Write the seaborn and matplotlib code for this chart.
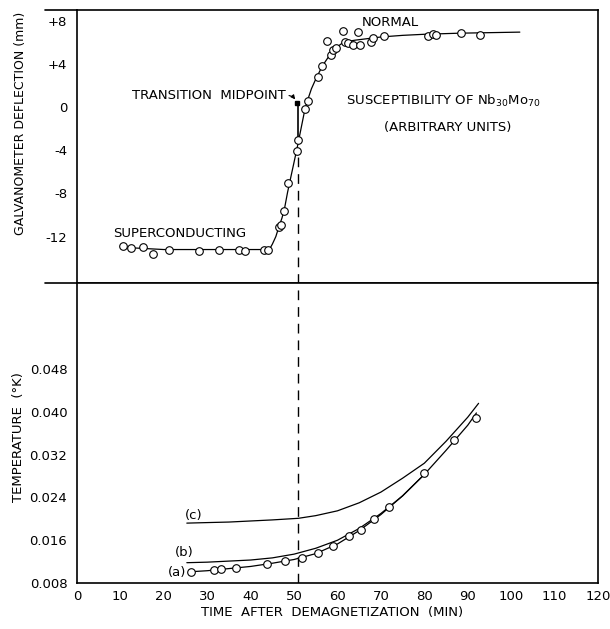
import matplotlib
matplotlib.use("Agg")
import matplotlib.pyplot as plt
import seaborn as sns
import pandas as pd

# galvanometer readings (time in min, deflection in mm)
galv_t = [10.7, 12.4, 15.1, 17.6, 21.3, 28.2, 32.6, 37.4, 38.7, 43.1, 43.9,
          46.5, 47.0, 47.7, 48.7, 50.6, 51.0, 52.5, 53.1, 55.4, 56.4, 57.7,
          58.5, 59.0, 59.7, 61.3, 61.7, 62.5, 63.6, 64.8, 65.3, 67.7, 68.1,
          70.8, 80.9, 81.9, 82.8, 88.5, 92.8]
galv_mm = [-12.9, -13.05, -12.95, -13.6, -13.2, -13.3, -13.2, -13.25, -13.3, -13.2, -13.25,
           -11.1, -10.9, -9.6, -7.0, -4.05, -3.05, -0.15, 0.6, 2.8, 3.8, 6.1,
           4.8, 5.3, 5.5, 7.1, 6.05, 5.9, 5.8, 6.95, 5.8, 6.05, 6.45,
           6.6, 6.55, 6.75, 6.7, 6.9, 6.65]

# smooth curve drawn through the galvanometer readings
galv_fit_t = [10.7, 20, 30, 40, 44.3, 45.0, 45.8, 46.5, 47.2, 47.8, 48.5, 49.3,
              50.0, 50.8, 51.5, 52.3, 53.0, 54.0, 55.0, 56.0, 57.0, 58.0, 59.0,
              60.0, 61.0, 62.5, 64, 67, 70, 75, 80, 88, 95, 102]
galv_fit_mm = [-13.0, -13.2, -13.2, -13.2, -13.2, -12.7, -12.0, -11.1, -10.3, -9.4, -7.9, -6.4,
               -5.1, -3.6, -2.2, -0.6, 0.5, 1.7, 2.6, 3.4, 4.1, 4.7, 5.2,
               5.6, 5.9, 6.1, 6.2, 6.35, 6.5, 6.65, 6.75, 6.85, 6.9, 6.95]

# temperature readings, curve (a)
temp_t = [26.2, 31.6, 33.2, 36.6, 43.7, 48.0, 51.8, 55.4, 59.0, 62.7, 65.4,
          68.5, 71.8, 80.0, 86.9, 91.9]
temp_k = [0.0101, 0.0104, 0.0106, 0.0109, 0.0115, 0.0121, 0.0127, 0.0137, 0.0150,
          0.0167, 0.0179, 0.0200, 0.0222, 0.0285, 0.0347, 0.0389]

curve_a_t = [26, 30, 35, 40, 45, 50, 55, 60, 65, 70, 75, 80, 85, 90, 92]
curve_a_k = [0.0101, 0.0103, 0.0107, 0.0111, 0.0117, 0.0124, 0.0135, 0.0153, 0.0178,
             0.0208, 0.0243, 0.0283, 0.0328, 0.0375, 0.0398]
curve_b_t = [25.3, 30, 35, 40, 45, 50, 55, 60, 65, 70, 75, 80]
curve_b_k = [0.0118, 0.0119, 0.0121, 0.0123, 0.0127, 0.0134, 0.0145, 0.0160, 0.0182,
             0.0210, 0.0243, 0.0283]
curve_c_t = [25.3, 30, 35, 40, 45, 51, 55, 60, 65, 70, 75, 80, 85, 90, 92.5]
curve_c_k = [0.0192, 0.0193, 0.0194, 0.0196, 0.0198, 0.0201, 0.0206, 0.0215, 0.0230,
             0.0250, 0.0276, 0.0304, 0.0345, 0.0390, 0.0416]

midpoint_t = 51.0
galv_ticks = [8, 4, 0, -4, -8, -12]
galv_ticklabels = ["+8", "+4", "0", "-4", "-8", "-12"]
temp_ticks = [0.008, 0.016, 0.024, 0.032, 0.040, 0.048]
time_ticks = list(range(0, 121, 10))

sns.set_style("white")
plt.rcParams["font.family"] = ["DejaVu Sans"]
plt.rcParams["mathtext.default"] = "regular"
for key in ["text.color", "axes.labelcolor", "xtick.color", "ytick.color"]:
    plt.rcParams[key] = "black"

fig = plt.figure(figsize=(6.1, 6.29), dpi=100)
ax1 = fig.add_axes([0.1262, 0.5501, 0.8541, 0.4340])
ax2 = fig.add_axes([0.1262, 0.0731, 0.8541, 0.4770])

lw = 0.9
circ = dict(marker="o", s=30, facecolor="white", edgecolor="black", linewidth=0.8, zorder=4)

# --- top panel: susceptibility
sns.lineplot(x=galv_fit_t, y=galv_fit_mm, ax=ax1, color="black", lw=lw, sort=False, estimator=None)
sns.scatterplot(x=galv_t, y=galv_mm, ax=ax1, **circ)
ax1.plot([midpoint_t, midpoint_t], [0.3, -3.1], color="black", lw=1.2)
ax1.plot([midpoint_t, midpoint_t], [-4.6, -16.3], color="black", lw=1.0, dashes=(7, 5))
ax1.plot([midpoint_t - 0.3], [0.35], marker="s", ms=3, color="black")
ax1.annotate("", xy=(50.6, 0.5), xytext=(48.2, 1.1),
             arrowprops=dict(arrowstyle="-|>", connectionstyle="arc3,rad=-0.3",
                             lw=0.8, color="black", mutation_scale=6))
ax1.text(48.0, 1.1, "TRANSITION  MIDPOINT", ha="right", va="center", fontsize=9.5)
ax1.text(72.1, 7.8, "NORMAL", ha="center", va="center", fontsize=9.5)
ax1.text(84.3, 0.55, "SUSCEPTIBILITY OF Nb$_{30}$Mo$_{70}$", ha="center", va="center", fontsize=9.5)
ax1.text(85.4, -1.85, "(ARBITRARY UNITS)", ha="center", va="center", fontsize=9.5)
ax1.text(23.6, -11.7, "SUPERCONDUCTING", ha="center", va="center", fontsize=9.5)

ax1.set_xlim(0, 120)
ax1.set_ylim(-16.3, 9.0)
ax1.set_yticks(galv_ticks)
ax1.set_yticklabels(galv_ticklabels)
ax1.set_xticks(time_ticks)
ax1.tick_params(axis="x", direction="in", length=14, width=0.8, labelbottom=False)
ax1.tick_params(axis="y", direction="in", length=14, width=0.8, pad=7, labelsize=9.5)
ax1.set_ylabel("GALVANOMETER DEFLECTION (mm)", fontsize=9)
ax1.yaxis.set_label_coords(-0.095, 0.585)
for side in ["top", "right", "left", "bottom"]:
    ax1.spines[side].set_color("black")
    ax1.spines[side].set_linewidth(1.2)
# top frame and divider run out past the left axis
for yv in [0.0, 1.0]:
    ax1.plot([-0.062, 0], [yv, yv], transform=ax1.transAxes, color="black", lw=1.2, clip_on=False)

# --- bottom panel: temperature
sns.lineplot(x=curve_c_t, y=curve_c_k, ax=ax2, color="black", lw=lw, sort=False, estimator=None)
sns.lineplot(x=curve_b_t, y=curve_b_k, ax=ax2, color="black", lw=lw, sort=False, estimator=None)
sns.lineplot(x=curve_a_t, y=curve_a_k, ax=ax2, color="black", lw=lw, sort=False, estimator=None)
sns.scatterplot(x=temp_t, y=temp_k, ax=ax2, **circ)
ax2.axvline(midpoint_t, color="black", lw=1.0, dashes=(7, 5))
ax2.text(26.9, 0.0207, "(c)", ha="center", va="center", fontsize=9.5)
ax2.text(24.6, 0.0138, "(b)", ha="center", va="center", fontsize=9.5)
ax2.text(23.0, 0.0099, "(a)", ha="center", va="center", fontsize=9.5)

ax2.set_xlim(0, 120)
ax2.set_ylim(0.008, 0.0641)
ax2.set_yticks(temp_ticks)
ax2.set_yticklabels([f"{v:.3f}" for v in temp_ticks])
ax2.set_xticks(time_ticks)
ax2.tick_params(axis="x", direction="in", length=14, width=0.8, pad=5, labelsize=9.5)
ax2.tick_params(axis="y", direction="in", length=14, width=0.8, pad=7, labelsize=9.5)
ax2.set_xlabel("TIME  AFTER  DEMAGNETIZATION  (MIN)", fontsize=9.5)
ax2.xaxis.set_label_coords(0.489, -0.075)
ax2.set_ylabel("TEMPERATURE  (°K)", fontsize=9.5)
ax2.yaxis.set_label_coords(-0.1, 0.487)
for side in ["top", "right", "left", "bottom"]:
    ax2.spines[side].set_color("black")
    ax2.spines[side].set_linewidth(1.2)

fig.savefig("out.png", dpi=100)
